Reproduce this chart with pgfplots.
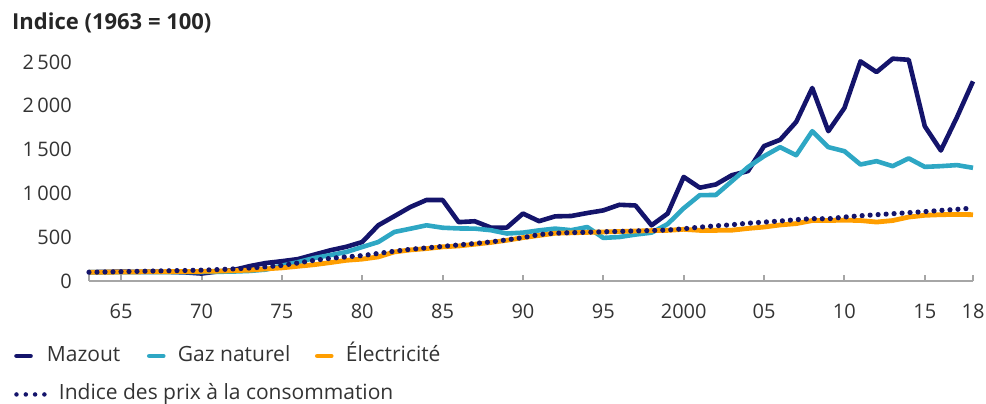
\documentclass[border=0pt]{standalone}
\usepackage{pgfplots}
\pgfplotsset{compat=1.18}
\usepackage{pgfplotstable}
\usepackage{fontspec}
\setmainfont{Open Sans}
\definecolor{navy}{HTML}{14146B}
\definecolor{gazc}{HTML}{2EA7C4}
\definecolor{orng}{HTML}{FF9E00}
\definecolor{txt}{HTML}{333333}
\definecolor{axgray}{HTML}{A6A6A6}

\pgfplotstableread{
year maz gaz ele ipc
1963 100 100 100 100
1964 104 100 101 103
1965 106 101 102 106
1966 104 101 104 110
1967 106 102 106 114
1968 104 102 107 117
1969 98 102 108 120
1970 85 103 110 124
1971 108 105 113 130
1972 125 108 118 138
1973 170 115 124 148
1974 205 130 138 162
1975 226 175 150 178
1976 250 215 168 206
1977 300 262 186 236
1978 350 295 210 258
1979 390 330 236 275
1980 445 388 250 290
1981 636 445 275 315
1982 740 560 332 340
1983 845 597 355 362
1984 925 636 370 378
1985 925 608 390 395
1986 672 600 400 412
1987 682 598 420 428
1988 610 580 440 446
1989 610 542 465 470
1990 770 552 495 495
1991 683 578 520 530
1992 738 598 545 545
1993 742 580 550 552
1994 776 616 555 556
1995 806 492 560 562
1996 870 502 565 566
1997 862 530 570 572
1998 636 552 575 576
1999 770 650 578 582
2000 1188 830 590 596
2001 1065 980 578 615
2002 1102 982 578 630
2003 1208 1140 580 642
2004 1255 1300 600 660
2005 1540 1425 616 672
2006 1612 1528 640 685
2007 1816 1436 655 700
2008 2203 1710 690 712
2009 1710 1528 690 710
2010 1975 1482 695 730
2011 2507 1330 690 745
2012 2385 1368 673 757
2013 2538 1311 690 768
2014 2525 1400 730 780
2015 1767 1303 750 792
2016 1490 1311 757 806
2017 1869 1323 760 818
2018 2279 1292 757 833
}\data

\begin{document}
\begin{tikzpicture}[font=\fontsize{21}{24}\selectfont]
\useasboundingbox (-89pt,-123pt) rectangle (897pt,281pt);
\begin{axis}[
  at={(0pt,0pt)}, anchor=south west,
  scale only axis, width=884pt, height=219pt,
  xmin=1963, xmax=2018, ymin=0, ymax=2500,
  clip=false,
  axis x line=bottom, axis y line=left,
  x axis line style={-, draw=axgray, line width=2pt},
  y axis line style={draw=none},
  xtick={1963,1965,1970,1975,1980,1985,1990,1995,2000,2005,2010,2015,2018},
  xticklabels={,65,70,75,80,85,90,95,2000,05,10,15,18},
  xtick style={draw=axgray, line width=2pt},
  ytick style={draw=none},
  major tick length=6pt, tick align=inside,
  xticklabel style={anchor=base, inner sep=0pt, yshift=-38pt, text=txt, font=\fontsize{20}{24}\selectfont},
  ytick={0,500,1000,1500,2000,2500},
  yticklabels={0,500,1\,000,1\,500,2\,000,2\,500},
  yticklabel style={anchor=east, inner sep=0pt, xshift=-17pt, text=txt, font=\fontsize{20}{24}\selectfont},
  legend columns=3,
  legend cell align=left,
  legend style={at={(axis description cs:0,0)}, anchor=north west, xshift=-75pt, yshift=-65pt,
    draw=none, fill=none, inner sep=0pt, column sep=0pt, row sep=19pt,
    font=\fontsize{21}{24}\selectfont, text=txt,
    nodes={inner sep=0pt, text height=15pt, text depth=4.5pt}},
  legend image code/.code={
    \path[draw=none, fill=none] (0pt,-3pt) rectangle (31pt,3pt);
    \draw[#1, line width=4.7pt, line cap=round] (2.4pt,0pt) -- (16.3pt,0pt);
  },
]
\addplot[navy, line width=4.6pt, line join=round] table[x=year, y=maz] {\data};
\addlegendentry{\makebox[100pt][l]{Mazout}}
\addplot[gazc, line width=4.6pt, line join=round] table[x=year, y=gaz] {\data};
\addlegendentry{\makebox[137pt][l]{Gaz naturel}}
\addplot[orng, line width=4.8pt, line join=round] table[x=year, y=ele] {\data};
\addlegendentry{Électricité}
\addplot[navy, line width=5.2pt, line cap=round, dash pattern=on 0pt off 8pt,
  legend image code/.code={
    \path[draw=none, fill=none] (0pt,-3pt) rectangle (31pt,3pt);
    \draw[navy, line width=4.5pt, line cap=round, dash pattern=on 0pt off 9.3pt] (2.3pt,0pt) -- (30.5pt,0pt);
  }] table[x=year, y=ipc] {\data};
\addlegendentry{\makebox[100pt][l]{\hspace{12pt}Indice des prix à la consommation}}
\end{axis}
\node[anchor=base west, inner sep=0pt, font=\bfseries\fontsize{22}{26}\selectfont, text=black!85] at (-77pt,251.5pt) {Indice (1963 = 100)};
\end{tikzpicture}
\end{document}
